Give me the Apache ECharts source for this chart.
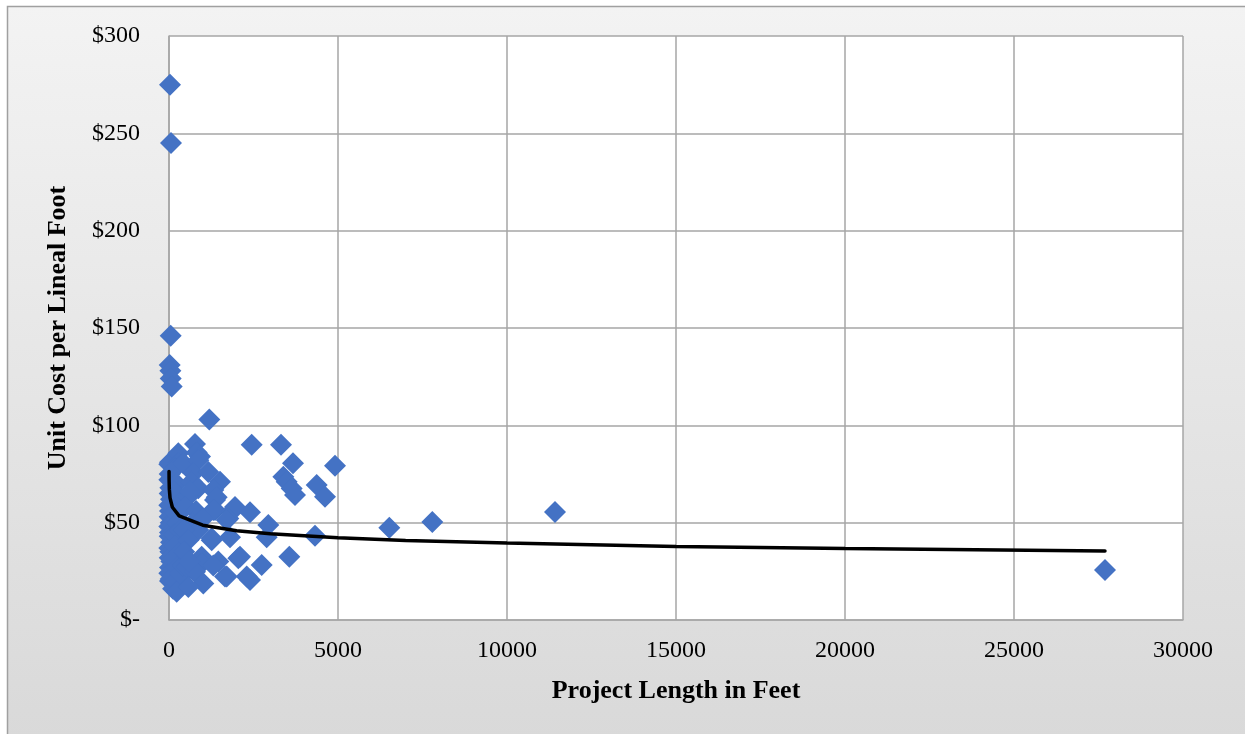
<!DOCTYPE html>
<html>
<head>
<meta charset="utf-8">
<script src="https://cdn.jsdelivr.net/npm/echarts@6/dist/echarts.min.js"></script>
<style>
html,body{margin:0;padding:0;background:#ffffff;}
#c{width:1245px;height:734px;}
</style>
</head>
<body>
<div id="c"></div>
<script>
// Project length (ft) and unit cost ($/lineal ft)
const projectLength = [
  30, 60, 50, 20, 40, 50, 80,
  10, 30, 20, 10, 40, 20, 60, 10, 30, 20, 50, 10, 30, 20, 60, 10, 40, 20, 70, 30, 10, 50, 30, 120,
  275, 275, 180, 230, 150, 300, 200, 250, 150, 330, 180, 300, 178, 230, 375, 178, 228, 325, 420,
  769, 819, 423, 917, 867, 720, 1163, 670, 1509, 867, 1311, 571, 621, 1411, 1361, 500, 800, 1361, 1311, 700, 867, 423, 1000, 571, 1263, 1263, 967, 1459, 967, 1311, 720, 523, 769, 1016, 571, 1193, 450, 600,
  1855, 1953, 1754, 1706, 2396, 1805, 2050, 2100, 2298, 1657, 1706, 2396, 2742, 2890, 2938, 3560, 4320, 2447, 3314, 3669, 3383, 3481, 3629, 3728, 4369, 4615, 4911,
  6519, 7790, 11420, 27692
];
const unitCost = [
  275, 245, 146, 131, 128, 124, 120,
  80, 81, 75, 72, 68, 65, 62, 59, 56, 53, 50, 48, 45, 43, 40, 37, 35, 32, 30, 27, 24, 21, 20, 16,
  85.6, 80.5, 78, 70, 66, 60, 55, 50, 44, 46, 38, 34, 30.8, 27, 22.3, 19.7, 14.5, 24, 28,
  90.4, 86, 80.5, 84, 82, 75.4, 76, 71, 71, 67.7, 66.8, 63.3, 66, 63, 61.6, 58, 56, 56.5, 56.5, 50, 46.2, 46.2, 52, 41, 41, 42, 32.5, 30, 29, 28, 25.7, 27.4, 24.8, 18.8, 17, 103, 35, 30,
  55.6, 58, 52.2, 51.4, 55.3, 42.5, 31.7, 32.5, 22.3, 22.3, 22.3, 20.5, 28.3, 42.5, 48.8, 32.5, 43.3, 90, 90, 80.5, 73.6, 71, 67.6, 64.2, 69.3, 63.3, 79.3,
  47.4, 50.3, 55.5, 25.7
];
// Logarithmic trend line
const trendX = [1, 3, 10, 30, 100, 300, 1000, 2000, 3000, 5000, 7000, 10000, 15000, 20000, 27692];
const trendY = [76.3, 71.9, 67.1, 62.7, 57.9, 53.5, 48.7, 45.9, 44.3, 42.2, 40.9, 39.5, 37.8, 36.7, 35.4];
const xTicks = [0, 5000, 10000, 15000, 20000, 25000, 30000];
const yTicks = [0, 50, 100, 150, 200, 250, 300];

const scatterData = projectLength.map((x, i) => [x, unitCost[i]]);
const trendData = trendX.map((x, i) => [x, trendY[i]]);

const chart = echarts.init(document.getElementById('c'), null, {renderer: 'canvas'});
const font = '"Liberation Serif", "Times New Roman", serif';
chart.setOption({
  animation: false,
  graphic: [{
    type: 'rect', z: -10, silent: true,
    shape: {x: 7.5, y: 6.5, width: 1260, height: 760},
    style: {
      fill: new echarts.graphic.LinearGradient(0, 0, 0, 1, [
        {offset: 0, color: '#f3f3f3'}, {offset: 1, color: '#d8d8d8'}
      ]),
      stroke: '#a0a0a0', lineWidth: 1.5
    }
  }],
  grid: {left: 169, right: 62, top: 36, bottom: 114, show: true, backgroundColor: '#ffffff', borderWidth: 0},
  xAxis: {
    type: 'value', min: xTicks[0], max: xTicks[xTicks.length - 1], interval: 5000,
    name: 'Project Length in Feet', nameLocation: 'middle', nameGap: 58,
    nameTextStyle: {fontFamily: font, fontWeight: 'bold', fontSize: 26, color: '#000'},
    axisLine: {lineStyle: {color: '#a6a6a6', width: 1.5}},
    axisTick: {show: false},
    splitLine: {lineStyle: {color: '#a6a6a6', width: 1.5}},
    axisLabel: {fontFamily: font, fontSize: 24, color: '#000', margin: 19,
      formatter: v => String(v)}
  },
  yAxis: {
    type: 'value', min: yTicks[0], max: yTicks[yTicks.length - 1], interval: 50,
    name: 'Unit Cost per Lineal Foot', nameLocation: 'middle', nameGap: 98,
    nameTextStyle: {fontFamily: font, fontWeight: 'bold', fontSize: 26, color: '#000'},
    axisLine: {show: true, lineStyle: {color: '#a6a6a6', width: 1.5}},
    axisTick: {show: false},
    splitLine: {lineStyle: {color: '#a6a6a6', width: 1.5}},
    axisLabel: {fontFamily: font, fontSize: 24, color: '#000', margin: 29,
      formatter: v => v === 0 ? '$-' : '$' + v}
  },
  series: [{
    type: 'scatter', data: scatterData, symbol: 'diamond', symbolSize: [22, 22],
    itemStyle: {color: '#4472C4', opacity: 1}, z: 2
  }, {
    type: 'line', data: trendData, showSymbol: false, symbol: 'none', smooth: false,
    lineStyle: {color: '#000', width: 3.5, cap: 'round'}, z: 3
  }]
});
</script>
</body>
</html>
